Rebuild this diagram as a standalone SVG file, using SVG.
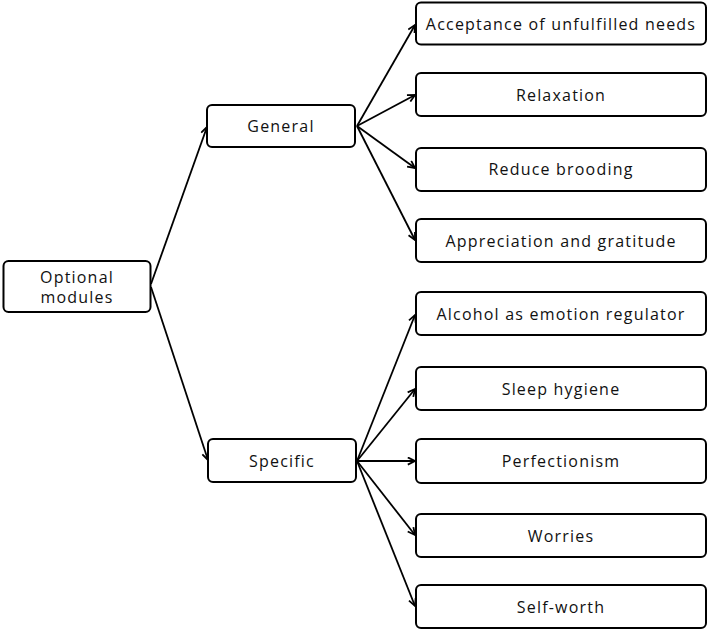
<svg xmlns="http://www.w3.org/2000/svg" width="708" height="632" viewBox="0 0 708 632">
<defs>
<style>
.box{fill:#fff;stroke:#000;stroke-width:2}
.t{font-family:"Open Sans","DejaVu Sans",sans-serif;font-size:16px;letter-spacing:1.2px;fill:#111;text-anchor:middle;dominant-baseline:central}
.c{stroke:#000;stroke-width:1.8;fill:none;marker-end:url(#ah)}
</style>
<marker id="ah" viewBox="0 0 10 10" refX="9" refY="5" markerWidth="5" markerHeight="5" orient="auto" markerUnits="strokeWidth">
<path d="M1,1 L9,5 L1,9" fill="none" stroke="#000" stroke-width="2"/>
</marker>
</defs>
<g id="connectors">
<path class="c" d="M151,284 L207,127"/>
<path class="c" d="M151,287 L208,460"/>
<path class="c" d="M357,126 L415,25"/>
<path class="c" d="M357,126 L415,95"/>
<path class="c" d="M357,126 L415,168"/>
<path class="c" d="M357,126 L415,240"/>
<path class="c" d="M357,461 L415,315"/>
<path class="c" d="M357,461 L415,389"/>
<path class="c" d="M357,461 L415,461"/>
<path class="c" d="M357,461 L415,535"/>
<path class="c" d="M357,461 L415,606"/>
</g>
<g id="optional"><rect class="box" x="3.5" y="261" width="147" height="51" rx="5"/><text class="t" x="77" y="277">Optional</text><text class="t" x="77" y="297">modules</text></g>
<g id="general"><rect class="box" x="207" y="105" width="148" height="42" rx="5"/><text class="t" x="281" y="126">General</text></g>
<g id="specific"><rect class="box" x="208" y="439" width="148" height="43" rx="5"/><text class="t" x="282" y="461">Specific</text></g>
<g id="acceptance"><rect class="box" x="416" y="2.5" width="290" height="42" rx="5"/><text class="t" x="561" y="24">Acceptance of unfulfilled needs</text></g>
<g id="relaxation"><rect class="box" x="416" y="73" width="290" height="43" rx="5"/><text class="t" x="561" y="95">Relaxation</text></g>
<g id="brooding"><rect class="box" x="416" y="148" width="290" height="43" rx="5"/><text class="t" x="561" y="169">Reduce brooding</text></g>
<g id="appreciation"><rect class="box" x="416" y="219" width="290" height="43" rx="5"/><text class="t" x="561" y="241">Appreciation and gratitude</text></g>
<g id="alcohol"><rect class="box" x="416" y="292" width="290" height="43" rx="5"/><text class="t" x="561" y="314">Alcohol as emotion regulator</text></g>
<g id="sleep"><rect class="box" x="416" y="367" width="290" height="43" rx="5"/><text class="t" x="561" y="389">Sleep hygiene</text></g>
<g id="perfectionism"><rect class="box" x="416" y="439" width="290" height="44" rx="5"/><text class="t" x="561" y="461">Perfectionism</text></g>
<g id="worries"><rect class="box" x="416" y="514" width="290" height="43" rx="5"/><text class="t" x="561" y="536">Worries</text></g>
<g id="selfworth"><rect class="box" x="416" y="585" width="290" height="43" rx="5"/><text class="t" x="561" y="607">Self-worth</text></g>
</svg>
